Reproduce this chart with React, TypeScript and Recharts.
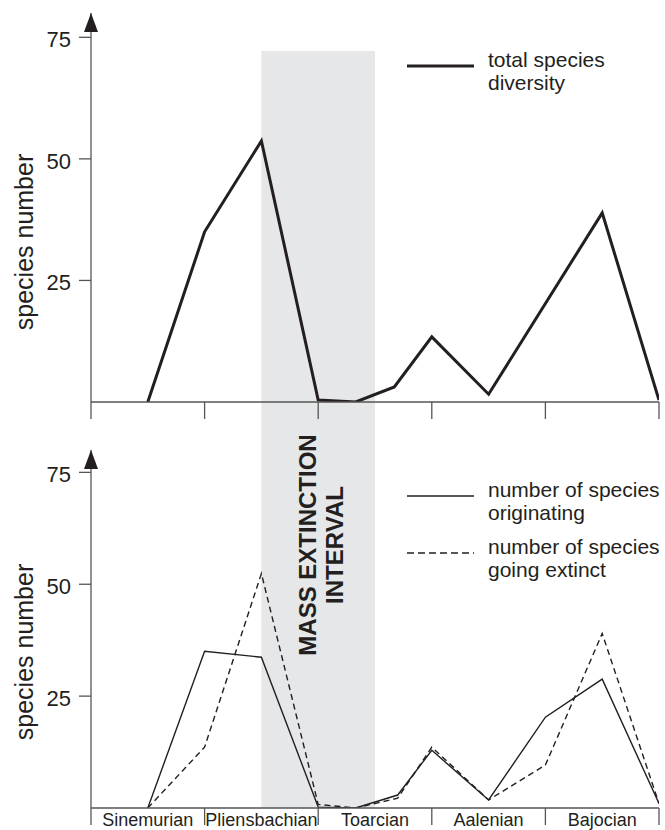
import {
	Legend,
	Line,
	LineChart,
	ReferenceArea,
	ReferenceDot,
	XAxis,
	YAxis,
} from "recharts";

const STAGES = ["Sinemurian", "Pliensbachian", "Toarcian", "Aalenian", "Bajocian"];
const X_TICKS = [0, 0.5, 1, 1.5, 2, 2.5, 3, 3.5, 4, 4.5, 5];
const Y_TICKS = [25, 50, 75];

// top panel: total species diversity
const TOTAL_X = [0.5, 1, 1.5, 2, 2.33, 2.67, 3, 3.5, 4.5, 5];
const TOTAL_DIVERSITY = [0, 35, 53.7, 0.4, 0, 3.1, 13.4, 1.6, 38.9, 0.4];

// bottom panel: originations and extinctions
const TURNOVER_X = [0.5, 1, 1.5, 2, 2.33, 2.7, 3, 3.5, 4, 4.5, 5];
const ORIGINATING = [0, 35, 33.7, 0.2, 0, 2.9, 12.9, 1.8, 20.3, 28.8, 1];
const EXTINCT = [0, 13.6, 52.4, 0.8, 0, 2.2, 13.6, 1.8, 9.6, 39, 1];

const EXTINCTION_INTERVAL = [1.5, 2.5];

const TOP_LEGEND = [["total species", "diversity"]];
const BOTTOM_LEGEND = [
	["number of species", "originating"],
	["number of species", "going extinct"],
];

const INK = "#231f20";
const AXIS = "#555555";
const BAND = "#e6e7e8";
const FONT = "'Liberation Sans', Arial, Helvetica, sans-serif";

function toPoints(xs: number[], ys: number[]) {
	return xs.map((x, i) => ({ x, y: ys[i] }));
}

function StageTick(props: any) {
	const { x, y, payload, showLabel } = props;
	const value = payload.value as number;
	if (Number.isInteger(value)) {
		return (
			<line x1={x} x2={x} y1={y} y2={y + 17} stroke={AXIS} strokeWidth={1.3} />
		);
	}
	if (!showLabel) {
		return <g />;
	}
	return (
		<text x={x} y={y + 18} textAnchor="middle" fontSize={18} fill={INK}>
			{STAGES[Math.floor(value)]}
		</text>
	);
}

function CountTick(props: any) {
	const { x, y, payload } = props;
	return (
		<text x={x} y={y + 10} textAnchor="end" fontSize={22} fill={INK}>
			{payload.value}
		</text>
	);
}

function AxisTitle({ cy }: { cy: number }) {
	return (
		<text
			x={32.5}
			y={cy}
			transform={`rotate(-90 32.5 ${cy})`}
			textAnchor="middle"
			fontSize={25}
			fill={INK}
		>
			species number
		</text>
	);
}

function Arrowhead(props: any) {
	const { cx, cy } = props;
	return <path d={`M${cx},${cy} L${cx - 7},${cy + 19} L${cx + 7},${cy + 19} Z`} fill={INK} />;
}

function BandLabel(props: any) {
	const { viewBox } = props;
	const cx = viewBox.x + viewBox.width / 2 - 2;
	const cy = 115;
	return (
		<text
			x={cx}
			y={cy}
			transform={`rotate(-90 ${cx} ${cy})`}
			textAnchor="middle"
			fontSize={24}
			fontWeight="bold"
			fill={INK}
		>
			<tspan x={cx} dy={0}>
				MASS EXTINCTION
			</tspan>
			<tspan x={cx} dy={26.5}>
				INTERVAL
			</tspan>
		</text>
	);
}

type LegendItem = { lines: string[]; top: number; dash?: string; width: number };

function LegendBlock({ items }: { items: LegendItem[] }) {
	return (
		<div style={{ position: "relative", width: 665, height: 160, fontFamily: FONT }}>
			{items.map((item) => (
				<div key={item.lines.join(" ")} style={{ position: "absolute", left: 407, top: item.top }}>
					<svg
						width={67}
						height={8}
						style={{ position: "absolute", left: 0, top: 14.5 }}
					>
						<line
							x1={0}
							x2={67}
							y1={4}
							y2={4}
							stroke={INK}
							strokeWidth={item.width}
							strokeDasharray={item.dash}
						/>
					</svg>
					<div
						style={{
							position: "absolute",
							left: 81,
							top: 0,
							fontSize: 21,
							lineHeight: "23px",
							whiteSpace: "nowrap",
							color: INK,
						}}
					>
						{item.lines[0]}
						<br />
						{item.lines[1]}
					</div>
				</div>
			))}
		</div>
	);
}

const xAxisProps = {
	type: "number" as const,
	dataKey: "x",
	domain: [0, 5],
	ticks: X_TICKS,
	interval: 0 as const,
	tickSize: 0,
	tickMargin: 0,
	tickLine: false,
	allowDataOverflow: true,
	axisLine: { stroke: AXIS, strokeWidth: 1.3 },
};

const yAxisProps = {
	type: "number" as const,
	domain: [0, 80],
	ticks: Y_TICKS,
	width: 50,
	tickSize: 12,
	tickMargin: 8,
	allowDataOverflow: true,
	axisLine: { stroke: AXIS, strokeWidth: 1.3 },
	tickLine: { stroke: AXIS, strokeWidth: 1.3 },
	tick: <CountTick />,
};

export default function App() {
	const totalData = toPoints(TOTAL_X, TOTAL_DIVERSITY);
	const originData = toPoints(TURNOVER_X, ORIGINATING);
	const extinctData = toPoints(TURNOVER_X, EXTINCT);

	return (
		<div
			style={{
				position: "absolute",
				left: 0,
				top: 0,
				width: 665,
				height: 830,
				background: "#fff",
				fontFamily: FONT,
				overflow: "hidden",
			}}
		>
			<LineChart width={665} height={430} margin={{ top: 13, right: 6, bottom: 0, left: 41 }}>
				<ReferenceArea
					x1={EXTINCTION_INTERVAL[0]}
					x2={EXTINCTION_INTERVAL[1]}
					y1={-5.8}
					y2={72.2}
					fill={BAND}
					fillOpacity={1}
					stroke="none"
					ifOverflow="visible"
				/>
				<XAxis {...xAxisProps} height={28} tick={<StageTick showLabel={false} />} />
				<YAxis {...yAxisProps} label={<AxisTitle cy={242} />} />
				<ReferenceDot x={0} y={80} ifOverflow="visible" shape={Arrowhead} />
				<Line
					data={totalData}
					dataKey="y"
					name="total species diversity"
					type="linear"
					stroke={INK}
					strokeWidth={3}
					strokeLinejoin="miter"
					dot={false}
					activeDot={false}
					isAnimationActive={false}
				/>
				<Legend
					layout="vertical"
					verticalAlign="middle"
					align="center"
					wrapperStyle={{ position: "absolute", left: 0, top: 0, width: 665, height: 160, margin: 0 }}
					content={() => (
						<LegendBlock items={[{ lines: TOP_LEGEND[0], top: 47.5, width: 3 }]} />
					)}
				/>
			</LineChart>
			<LineChart width={665} height={400} margin={{ top: 20, right: 6, bottom: 0, left: 41 }}>
				<ReferenceArea
					x1={EXTINCTION_INTERVAL[0]}
					x2={EXTINCTION_INTERVAL[1]}
					y1={0}
					y2={84.5}
					fill={BAND}
					fillOpacity={1}
					stroke="none"
					ifOverflow="visible"
					label={<BandLabel />}
				/>
				<XAxis {...xAxisProps} height={22} tick={<StageTick showLabel />} />
				<YAxis {...yAxisProps} label={<AxisTitle cy={222} />} />
				<ReferenceDot x={0} y={80} ifOverflow="visible" shape={Arrowhead} />
				<Line
					data={originData}
					dataKey="y"
					name="number of species originating"
					type="linear"
					stroke={INK}
					strokeWidth={1.4}
					dot={false}
					activeDot={false}
					isAnimationActive={false}
				/>
				<Line
					data={extinctData}
					dataKey="y"
					name="number of species going extinct"
					type="linear"
					stroke={INK}
					strokeWidth={1.4}
					strokeDasharray="6 4"
					dot={false}
					activeDot={false}
					isAnimationActive={false}
				/>
				<Legend
					layout="vertical"
					verticalAlign="middle"
					align="center"
					wrapperStyle={{ position: "absolute", left: 0, top: 0, width: 665, height: 160, margin: 0 }}
					content={() => (
						<LegendBlock
							items={[
								{ lines: BOTTOM_LEGEND[0], top: 47.5, width: 1.4 },
								{ lines: BOTTOM_LEGEND[1], top: 104.5, width: 1.4, dash: "7 4" },
							]}
						/>
					)}
				/>
			</LineChart>
		</div>
	);
}
